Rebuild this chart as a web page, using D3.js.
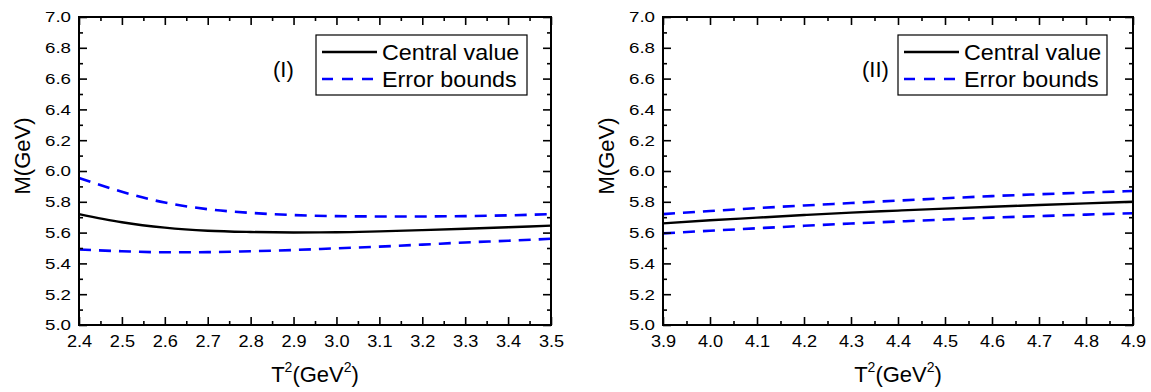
<!DOCTYPE html>
<html>
<head>
<meta charset="utf-8">
<script src="https://cdn.jsdelivr.net/npm/d3@7"></script>
<style>
    html, body { margin: 0; padding: 0; background: #ffffff; }
    svg { display: block; font-family: Arial, "Liberation Sans", sans-serif; }
    .stretch { transform-box: fill-box; }
</style>
</head>
<body>
<svg id="chart" width="1151" height="392"></svg>
<script>
// panel (I)
let t2_I = [2.4, 2.5, 2.6, 2.7, 2.8, 2.9, 3.0, 3.1, 3.2, 3.3, 3.4, 3.5];
let central_I = [5.72, 5.667, 5.632, 5.612, 5.604, 5.601, 5.602, 5.608, 5.616, 5.625, 5.635, 5.645];
let upper_I = [5.955, 5.865, 5.795, 5.752, 5.728, 5.714, 5.707, 5.705, 5.705, 5.707, 5.712, 5.72];
let lower_I = [5.49, 5.479, 5.472, 5.473, 5.479, 5.487, 5.498, 5.509, 5.522, 5.536, 5.547, 5.56];

// panel (II)
let t2_II = [3.9, 4.0, 4.1, 4.2, 4.3, 4.4, 4.5, 4.6, 4.7, 4.8, 4.9];
let central_II = [5.66, 5.68, 5.697, 5.714, 5.73, 5.743, 5.756, 5.768, 5.779, 5.79, 5.80];
let upper_II = [5.72, 5.74, 5.759, 5.776, 5.792, 5.808, 5.823, 5.837, 5.849, 5.86, 5.87];
let lower_II = [5.595, 5.612, 5.628, 5.644, 5.659, 5.672, 5.685, 5.697, 5.707, 5.717, 5.726];

let y_ticks = [5.0, 5.2, 5.4, 5.6, 5.8, 6.0, 6.2, 6.4, 6.6, 6.8, 7.0];
let x_ticks_I = [2.4, 2.5, 2.6, 2.7, 2.8, 2.9, 3.0, 3.1, 3.2, 3.3, 3.4, 3.5];
let x_ticks_II = [3.9, 4.0, 4.1, 4.2, 4.3, 4.4, 4.5, 4.6, 4.7, 4.8, 4.9];
let legend_labels = ["Central value", "Error bounds"];

let svg = d3.select("#chart");
let blue = "#0000ff";

// the original's lettering is a little wider than Arial
function stretch(sel, sx, origin){
    sel.classed("stretch", true)
        .style("transform-origin", origin)
        .style("transform", "scaleX(" + sx + ")");
}

function draw_panel(left, right, xs, central, upper, lower, x_ticks, tag, tag_x, legend_x, legend_w){
    let top = 17, bottom = 325;
    let width = right - left, height = bottom - top;
    let x = d3.scaleLinear().domain([x_ticks[0], x_ticks[x_ticks.length - 1]]).range([0, width]);
    let y = d3.scaleLinear().domain([5.0, 7.0]).range([height, 0]);

    let figure = svg.append("g").attr("transform", "translate(" + left + "," + top + ")");

    let x_minor = [];
    for(let i = 0; i < x_ticks.length - 1; i++){ x_minor.push((x_ticks[i] + x_ticks[i + 1]) / 2); }
    let y_minor = [];
    for(let i = 0; i < y_ticks.length - 1; i++){ y_minor.push((y_ticks[i] + y_ticks[i + 1]) / 2); }

    // curves
    let line = d3.line()
        .x(function(d){ return x(d[0]); })
        .y(function(d){ return y(d[1]); })
        .curve(d3.curveMonotoneX);

    figure.append("path")
        .datum(d3.zip(xs, central))
        .attr("d", line)
        .style("fill", "none").style("stroke", "#000").style("stroke-width", 2.4);

    [upper, lower].forEach(function(series){
        figure.append("path")
            .datum(d3.zip(xs, series))
            .attr("d", line)
            .style("fill", "none").style("stroke", blue).style("stroke-width", 2.6)
            .style("stroke-dasharray", "12,8");
    });

    // axes with inward ticks on all four sides
    let fmt = d3.format(".1f");
    let xb = figure.append("g").attr("transform", "translate(0," + height + ")")
        .call(d3.axisBottom(x).tickValues(x_ticks).tickSize(-8).tickPadding(10).tickFormat(fmt));
    figure.append("g").attr("transform", "translate(0," + height + ")")
        .call(d3.axisBottom(x).tickValues(x_minor).tickSize(-4).tickFormat(""));
    figure.append("g")
        .call(d3.axisTop(x).tickValues(x_ticks).tickSize(-8).tickFormat(""));
    figure.append("g")
        .call(d3.axisTop(x).tickValues(x_minor).tickSize(-4).tickFormat(""));
    let yl = figure.append("g")
        .call(d3.axisLeft(y).tickValues(y_ticks).tickSize(-8).tickPadding(8).tickFormat(fmt));
    figure.append("g")
        .call(d3.axisLeft(y).tickValues(y_minor).tickSize(-4).tickFormat(""));
    figure.append("g").attr("transform", "translate(" + width + ",0)")
        .call(d3.axisRight(y).tickValues(y_ticks).tickSize(-8).tickFormat(""));
    figure.append("g").attr("transform", "translate(" + width + ",0)")
        .call(d3.axisRight(y).tickValues(y_minor).tickSize(-4).tickFormat(""));

    figure.selectAll(".domain").remove();
    figure.selectAll(".tick line").style("stroke", "#000").style("stroke-width", 1.6);
    figure.selectAll(".tick text").style("fill", "#000")
        .style("font-family", "Arial, 'Liberation Sans', sans-serif");
    xb.selectAll(".tick text").style("font-size", "16.5px");
    stretch(xb.selectAll(".tick text"), 1.1, "50% 50%");
    yl.selectAll(".tick text").style("font-size", "15px");
    stretch(yl.selectAll(".tick text"), 1.25, "100% 50%");

    figure.append("rect")
        .attr("x", 0).attr("y", 0).attr("width", width).attr("height", height)
        .style("fill", "none").style("stroke", "#000").style("stroke-width", 2);

    // axis titles
    figure.append("text")
        .attr("transform", "rotate(-90)")
        .attr("x", -139)
        .attr("y", -49)
        .style("text-anchor", "middle")
        .style("font-size", "22px")
        .text("M(GeV)");

    let xt = figure.append("text")
        .attr("x", width / 2)
        .attr("y", height + 57)
        .style("text-anchor", "middle")
        .style("font-size", "22px");
    xt.append("tspan").text("T");
    xt.append("tspan").attr("dy", -10).style("font-size", "14px").text("2");
    xt.append("tspan").attr("dy", 10).text("(GeV");
    xt.append("tspan").attr("dy", -10).style("font-size", "14px").text("2");
    xt.append("tspan").attr("dy", 10).text(")");

    // panel tag
    figure.append("text")
        .attr("x", tag_x - left)
        .attr("y", 77 - top)
        .style("font-size", "22px")
        .text(tag);

    // legend
    let lg = figure.append("g").attr("transform", "translate(" + (legend_x - left) + "," + (35 - top) + ")");
    lg.append("rect")
        .attr("width", legend_w).attr("height", 60)
        .style("fill", "#fff").style("stroke", "#000").style("stroke-width", 1.2);
    legend_labels.forEach(function(label, i){
        let ly = 17 + i * 27;
        lg.append("line")
            .attr("x1", 6).attr("x2", 61).attr("y1", ly).attr("y2", ly)
            .style("stroke", i == 0 ? "#000" : blue)
            .style("stroke-width", i == 0 ? 2.4 : 2.6)
            .style("stroke-dasharray", i == 0 ? null : "11,9");
        let t = lg.append("text")
            .attr("x", 66).attr("y", ly + 8)
            .style("font-size", "22px")
            .text(label);
        stretch(t, 1.06, "0% 50%");
    });
}

draw_panel(79, 551, t2_I, central_I, upper_I, lower_I, x_ticks_I, "(I)", 273, 316, 211);
draw_panel(663, 1133, t2_II, central_II, upper_II, lower_II, x_ticks_II, "(II)", 862, 898, 209);
</script>
</body>
</html>
